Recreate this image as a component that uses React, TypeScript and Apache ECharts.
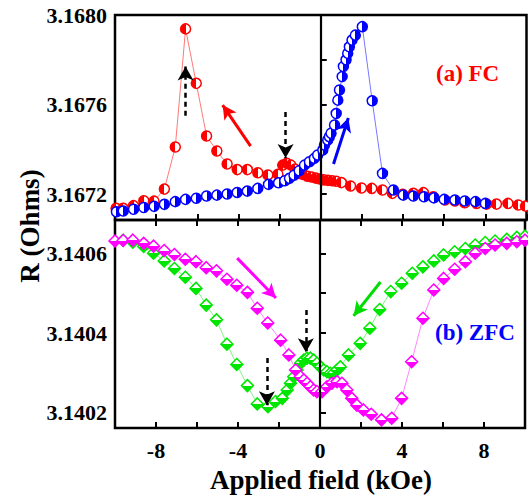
import React, { useEffect, useRef } from "react";
import * as echarts from "echarts";

// Applied field (kOe) vs R (Ohms)
// (a) FC: field swept from +10 to -10 (red) and from -10 to +10 (blue)
const fcSweepDown: [number, number][] = [
  [-9.95, 3.167137], [-9.6, 3.167137], [-9.1, 3.167149], [-8.6, 3.167171], [-8.1, 3.167169],
  [-7.6, 3.167223], [-7.07, 3.167411], [-6.57, 3.167938], [-6.05, 3.167695], [-5.55, 3.16746],
  [-5.05, 3.167393], [-4.55, 3.167335], [-4.06, 3.16731], [-3.57, 3.16731], [-3.06, 3.167296],
  [-2.57, 3.167286], [-2.08, 3.167289], [-1.85, 3.16733], [-1.65, 3.167338], [-1.45, 3.16733],
  [-1.25, 3.167312], [-1.05, 3.167293], [-0.85, 3.167288], [-0.65, 3.16728], [-0.45, 3.167277],
  [-0.25, 3.167272], [-0.05, 3.167268], [0.15, 3.167264], [0.35, 3.167262], [0.55, 3.16726],
  [0.75, 3.167258], [1.0, 3.167252], [1.45, 3.167237], [1.98, 3.167228], [2.48, 3.167226],
  [3.0, 3.167219], [3.48, 3.167204], [3.98, 3.1672], [4.5, 3.167204], [4.99, 3.167207],
  [5.47, 3.167189], [6.04, 3.167174], [6.52, 3.16717], [7.0, 3.167162], [7.57, 3.167159],
  [8.06, 3.167156], [8.54, 3.167156], [9.1, 3.167159], [9.6, 3.167152], [9.95, 3.167147],
];

const fcSweepUp: [number, number][] = [
  [-9.93, 3.167122], [-9.6, 3.167125], [-9.1, 3.167133], [-8.6, 3.167141], [-8.1, 3.167146],
  [-7.6, 3.167155], [-7.07, 3.167167], [-6.57, 3.167177], [-6.05, 3.167182], [-5.55, 3.167192],
  [-5.05, 3.167196], [-4.55, 3.167201], [-4.06, 3.167208], [-3.57, 3.167214], [-3.06, 3.167226],
  [-2.54, 3.167244], [-2.05, 3.167251], [-1.75, 3.16726], [-1.52, 3.167271], [-1.3, 3.167285],
  [-1.05, 3.167305], [-0.79, 3.16733], [-0.55, 3.167345], [-0.31, 3.16736], [-0.15, 3.167375],
  [0.1, 3.167397], [0.18, 3.16742], [0.34, 3.167442], [0.42, 3.167457], [0.5, 3.167472],
  [0.67, 3.167509], [0.75, 3.16756], [0.83, 3.16762], [0.91, 3.167665], [1.04, 3.167725],
  [1.1, 3.16777], [1.23, 3.1678], [1.31, 3.167829], [1.39, 3.167858], [1.52, 3.167888],
  [1.68, 3.16791], [2.02, 3.167948], [2.5, 3.167617], [3.0, 3.167293], [3.53, 3.167219],
  [4.01, 3.167196], [4.5, 3.167192], [5.02, 3.167189], [5.5, 3.167184], [6.0, 3.167177],
  [6.52, 3.167174], [7.0, 3.16717], [7.52, 3.167167], [8.0, 3.167159],
];

// (b) ZFC
const zfcSweepDown: [number, number][] = [
  [-9.6, 3.140633], [-9.13, 3.140628], [-8.6, 3.140617], [-8.12, 3.1406], [-7.6, 3.140581],
  [-7.1, 3.140562], [-6.57, 3.14054], [-6.05, 3.140512], [-5.55, 3.14047], [-5.05, 3.140433],
  [-4.54, 3.140372], [-4.06, 3.140321], [-3.54, 3.140268], [-3.06, 3.140222], [-2.54, 3.140215],
  [-2.17, 3.140228], [-1.84, 3.140236], [-1.6, 3.140257], [-1.44, 3.140274], [-1.28, 3.14029],
  [-1.12, 3.140307], [-0.95, 3.140324], [-0.79, 3.140332], [-0.63, 3.140337], [-0.47, 3.140337],
  [-0.31, 3.140332], [-0.15, 3.140324], [0.02, 3.140315], [0.18, 3.140307], [0.34, 3.140303],
  [0.5, 3.140299], [0.66, 3.140299], [0.83, 3.140307], [0.99, 3.140315], [1.39, 3.140345],
  [1.96, 3.140374], [2.43, 3.140412], [2.91, 3.140459], [3.45, 3.140504], [3.98, 3.140525],
  [4.5, 3.14055], [5.02, 3.140566], [5.55, 3.140581], [6.03, 3.140596], [6.57, 3.140604],
  [7.09, 3.140612], [7.57, 3.140621], [8.06, 3.140627], [8.54, 3.140631], [9.11, 3.140635],
  [9.6, 3.14064], [10, 3.140643],
];

const zfcSweepUp: [number, number][] = [
  [-10, 3.140631], [-9.6, 3.140632], [-9.13, 3.140633], [-8.6, 3.140625], [-8.12, 3.140618],
  [-7.6, 3.140607], [-7.1, 3.140597], [-6.57, 3.140585], [-6.05, 3.140579], [-5.55, 3.140564],
  [-5.05, 3.140556], [-4.54, 3.140535], [-4.06, 3.14052], [-3.54, 3.140502], [-3.06, 3.140462],
  [-2.55, 3.140425], [-1.92, 3.140382], [-1.52, 3.140345], [-1.19, 3.140307], [-0.95, 3.14029],
  [-0.79, 3.140282], [-0.63, 3.140274], [-0.47, 3.140265], [-0.31, 3.140257], [-0.15, 3.140253],
  [0.1, 3.140253], [0.34, 3.140265], [0.58, 3.140274], [0.83, 3.140278], [1.07, 3.140274],
  [1.31, 3.140257], [1.55, 3.140236], [1.8, 3.140219], [2.12, 3.140207], [2.5, 3.140196],
  [3.0, 3.140182], [3.5, 3.140186], [3.98, 3.140236], [4.47, 3.140328], [5.02, 3.140437],
  [5.55, 3.140508], [6.03, 3.140537], [6.57, 3.14056], [7.09, 3.140579], [7.57, 3.1406],
  [8.06, 3.140612], [8.54, 3.140621], [9.11, 3.140625], [9.6, 3.140629], [10, 3.140633],
];

const xLabelTicks = [-8, -4, 0, 4, 8];
const fcLabelTicks = [3.1672, 3.1676, 3.168];
const zfcLabelTicks = [3.1402, 3.1404, 3.1406];

// annotation arrows in data coordinates: [x1, y1, x2, y2]
const fcArrows = [
  { pts: [-6.57, 3.16755, -6.57, 3.16777], color: "#000000", dashed: true },
  { pts: [-1.71, 3.167567, -1.71, 3.167362], color: "#000000", dashed: true },
  { pts: [-3.41, 3.167415, -4.77, 3.167598], color: "#ff0000", dashed: false },
  { pts: [0.62, 3.167335, 1.34, 3.16754], color: "#0000ff", dashed: false },
];
const zfcArrows = [
  { pts: [-0.69, 3.140458, -0.69, 3.140352], color: "#000000", dashed: true },
  { pts: [-2.59, 3.140337, -2.59, 3.140219], color: "#000000", dashed: true },
  { pts: [-4.04, 3.140588, -2.15, 3.140488], color: "#ff00ff", dashed: false },
  { pts: [2.95, 3.140528, 1.64, 3.140443], color: "#00dd00", dashed: false },
];

const FONT = '"Liberation Serif", "Times New Roman", serif';

function halfFill(color: string, vertical: boolean, filledFirst: boolean) {
  const a = filledFirst ? color : "#ffffff";
  const b = filledFirst ? "#ffffff" : color;
  return new echarts.graphic.LinearGradient(0, 0, vertical ? 0 : 1, vertical ? 1 : 0, [
    { offset: 0, color: a },
    { offset: 0.5, color: a },
    { offset: 0.5, color: b },
    { offset: 1, color: b },
  ]);
}

function arrowLines(list: typeof fcArrows) {
  return list.map((a) => [
    {
      coord: [a.pts[0], a.pts[1]],
      symbol: "none",
      lineStyle: {
        color: a.color,
        width: a.dashed ? 2.5 : 3,
        type: a.dashed ? [5, 4] : "solid",
      },
    },
    {
      coord: [a.pts[2], a.pts[3]],
      symbol: "arrow",
      symbolSize: a.dashed ? [12, 14] : [11, 14],
    },
  ]);
}

const zeroLine = {
  xAxis: 0,
  lineStyle: { color: "#000000", width: 2.2, type: "solid" },
};

function isTick(list: number[], v: number) {
  return list.some((t) => Math.abs(t - v) < 1e-7);
}

export default function App() {
  const ref = useRef<HTMLDivElement>(null);
  useEffect(() => {
    if (!ref.current) return;
    const chart = echarts.init(ref.current, null, { renderer: "svg" });
    const tickStyle = { show: true, inside: true, length: 6, lineStyle: { color: "#000", width: 2 } };
    const labelFont = { fontFamily: FONT, fontWeight: "bold" as const, fontSize: 22, color: "#000" };
    const xBase = {
      type: "value" as const,
      min: -10,
      max: 10,
      interval: 2,
      axisLine: { show: false },
      splitLine: { show: false },
      axisTick: tickStyle,
    };
    const option: any = {
      animation: false,
      backgroundColor: "#ffffff",
      grid: [
        { left: 115, right: 1.5, top: 15, height: 205, show: true, borderColor: "#000", borderWidth: 2.5, backgroundColor: "transparent" },
        { left: 115, right: 1.5, top: 220, height: 208, show: true, borderColor: "#000", borderWidth: 2.5, backgroundColor: "transparent" },
      ],
      xAxis: [
        { ...xBase, gridIndex: 0, position: "bottom", axisLabel: { show: false } },
        {
          ...xBase,
          gridIndex: 1,
          position: "bottom",
          axisLabel: {
            ...labelFont,
            margin: 11,
            formatter: (v: number) => (xLabelTicks.includes(v) ? String(v) : ""),
          },
        },
        { ...xBase, gridIndex: 1, position: "top", axisLabel: { show: false } },
      ],
      yAxis: [
        {
          type: "value",
          gridIndex: 0,
          min: 3.167085,
          max: 3.168,
          splitNumber: 5,
          axisLine: { show: false },
          splitLine: { show: false },
          axisTick: tickStyle,
          axisLabel: {
            ...labelFont,
            margin: 8,
            formatter: (v: number) => (isTick(fcLabelTicks, v) ? v.toFixed(4) : ""),
          },
        },
        {
          type: "value",
          gridIndex: 1,
          min: 3.1401616,
          max: 3.1406836,
          splitNumber: 5,
          axisLine: { show: false },
          splitLine: { show: false },
          axisTick: tickStyle,
          axisLabel: {
            ...labelFont,
            margin: 8,
            formatter: (v: number) => (isTick(zfcLabelTicks, v) ? v.toFixed(4) : ""),
          },
        },
      ],
      series: [
        {
          type: "line",
          xAxisIndex: 0,
          yAxisIndex: 0,
          data: fcSweepDown,
          symbol: "circle",
          symbolSize: 10,
          lineStyle: { color: "#ff5555", width: 0.8 },
          itemStyle: { color: halfFill("#ff0000", false, true), borderColor: "#ff0000", borderWidth: 1.5 },
          markLine: {
            silent: true,
            animation: false,
            symbol: ["none", "none"],
            label: { show: false },
            data: [zeroLine, ...arrowLines(fcArrows)],
          },
        },
        {
          type: "line",
          xAxisIndex: 0,
          yAxisIndex: 0,
          data: fcSweepUp,
          symbol: "circle",
          symbolSize: 10,
          lineStyle: { color: "#5555ff", width: 0.8 },
          itemStyle: { color: halfFill("#0000ff", false, false), borderColor: "#0000ff", borderWidth: 1.5 },
        },
        {
          type: "line",
          xAxisIndex: 1,
          yAxisIndex: 1,
          data: zfcSweepDown,
          symbol: "diamond",
          symbolSize: 12,
          lineStyle: { color: "#66ee66", width: 0.8 },
          itemStyle: { color: halfFill("#00e600", true, false), borderColor: "#00e600", borderWidth: 1.5 },
          markLine: {
            silent: true,
            animation: false,
            symbol: ["none", "none"],
            label: { show: false },
            data: [zeroLine, ...arrowLines(zfcArrows)],
          },
        },
        {
          type: "line",
          xAxisIndex: 1,
          yAxisIndex: 1,
          data: zfcSweepUp,
          symbol: "diamond",
          symbolSize: 12,
          lineStyle: { color: "#ff66ff", width: 0.8 },
          itemStyle: { color: halfFill("#ff00ff", true, false), borderColor: "#ff00ff", borderWidth: 1.5 },
        },
      ],
      graphic: [
        {
          type: "text",
          x: 436,
          y: 73,
          style: { text: "(a) FC", fill: "#ff0000", fontFamily: FONT, fontWeight: "bold", fontSize: 23, align: "left", verticalAlign: "middle" },
        },
        {
          type: "text",
          x: 435,
          y: 332,
          style: { text: "(b) ZFC", fill: "#0000ff", fontFamily: FONT, fontWeight: "bold", fontSize: 23, align: "left", verticalAlign: "middle" },
        },
        {
          type: "text",
          x: 321,
          y: 480,
          style: { text: "Applied field (kOe)", fill: "#000", fontFamily: FONT, fontWeight: "bold", fontSize: 27, align: "center", verticalAlign: "middle" },
        },
        {
          type: "text",
          x: 30,
          y: 226,
          rotation: Math.PI / 2,
          style: { text: "R (Ohms)", fill: "#000", fontFamily: FONT, fontWeight: "bold", fontSize: 27, align: "center", verticalAlign: "middle" },
        },
      ],
    };
    chart.setOption(option);
    return () => chart.dispose();
  }, []);
  return (
    <div
      ref={ref}
      style={{ position: "fixed", left: 0, top: 0, width: 528, height: 496, background: "#fff" }}
    />
  );
}
